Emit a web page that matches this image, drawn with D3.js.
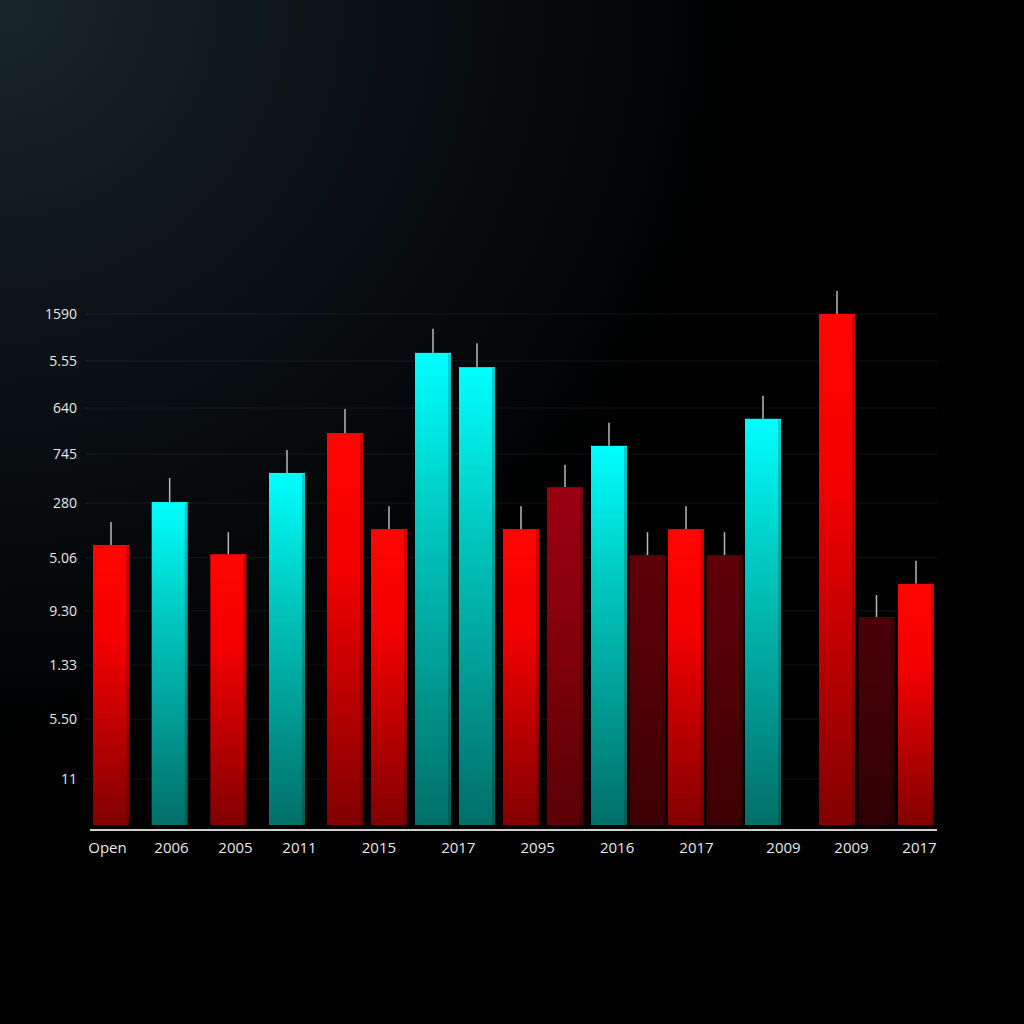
<!DOCTYPE html>
<html><head><meta charset="utf-8">
<script src="https://cdn.jsdelivr.net/npm/d3@7"></script>
<style>html,body{margin:0;padding:0;background:#000;}svg{display:block;}</style>
</head><body>
<script>
// ---- data ----
const barIds = ["b1","b2","b3","b4","b5","b6","b7","b8","b9","b10","b11","b12","b13","b14","b15","b16","b17","b18"];
const barKinds = ["red","cyan","red","cyan","red","red","cyan","cyan","red","maroon","cyan","dark","red","dark","cyan","red","darker","red"];
const barValues = [54.8,63.2,53.0,68.9,76.7,57.9,92.4,89.6,57.9,66.1,74.2,52.8,57.9,52.8,79.5,100,40.7,47.2];
const highValues = [59.3,67.9,57.3,73.4,81.4,62.4,97.1,94.3,62.4,70.5,78.7,57.3,62.4,57.3,84.0,104.5,45.0,51.7];
const xLabels = ["Open","2006","2005","2011","2015","2017","2095","2016","2017","2009","2009","2017"];
const yTickValues = [9.0,20.7,31.3,41.9,52.3,63.0,72.6,81.6,90.8,100];
const yTickLabels = ["11","5.50","1.33","9.30","5.06","280","745","640","5.55","1590"];

// ---- layout ----
const W = 1024, H = 1024;
const svg = d3.select("body").append("svg").attr("width", W).attr("height", H);
const defs = svg.append("defs");

const bg = defs.append("radialGradient").attr("id","bg").attr("cx","0").attr("cy","0").attr("r","1")
  .attr("gradientUnits","userSpaceOnUse").attr("gradientTransform","scale(1000)");
bg.append("stop").attr("offset","0").attr("stop-color","#18262c");
bg.append("stop").attr("offset","0.35").attr("stop-color","#0b1216");
bg.append("stop").attr("offset","0.75").attr("stop-color","#000000");
svg.append("rect").attr("width",W).attr("height",H).attr("fill","url(#bg)");

const grads = {
  red:    ["#ff0500","#f20000","#820000"],
  cyan:   ["#00ffff","#00c9c0","#006f68"],
  maroon: ["#9a0010","#8a000c","#5a0006"],
  dark:   ["#5e0008","#550007","#3c0004"],
  darker: ["#4a0008","#420006","#2e0003"]
};
Object.entries(grads).forEach(([k,c])=>{
  const g = defs.append("linearGradient").attr("id","g-"+k).attr("x1",0).attr("y1",0).attr("x2",0).attr("y2",1);
  g.append("stop").attr("offset","0").attr("stop-color",c[0]);
  g.append("stop").attr("offset","0.35").attr("stop-color",c[1]);
  g.append("stop").attr("offset","1").attr("stop-color",c[2]);
});

const plotLeft = 90, plotRight = 937, baseY = 825;
const y = d3.scaleLinear().domain([0,100]).range([baseY,314]);
const idx = d3.scaleLinear().domain([0,3,4,10,14,15,17]).range([111,287,345,609,763,837,916]);
const x = id => idx(barIds.indexOf(id));
const bw = 36;
const xl = d3.scaleLinear().domain([0,3,8,9,11]).range([107,299,696,783,919]);

// grid
svg.append("g").selectAll("line").data(yTickValues).join("line")
  .attr("x1",85).attr("x2",plotRight).attr("y1",d=>y(d)).attr("y2",d=>y(d))
  .attr("stroke","#ffffff").attr("stroke-opacity",0.07).attr("stroke-width",1);

// y labels via axis
const yAxis = d3.axisLeft(y).tickValues(yTickValues).tickFormat((d,i)=>yTickLabels[i]).tickSize(0).tickPadding(0);
const ya = svg.append("g").attr("transform","translate(77,0)").call(yAxis);
ya.select(".domain").remove();
ya.selectAll("text").attr("fill","#e8e8e8").attr("font-family","'Open Sans', sans-serif").attr("font-size",14);

// wicks
svg.append("g").selectAll("line").data(barIds).join("line")
  .attr("x1",d=>x(d)).attr("x2",d=>x(d))
  .attr("y1",(d,i)=>y(highValues[i])).attr("y2",(d,i)=>y(barValues[i]))
  .attr("stroke","#b8b8b8").attr("stroke-width",1.5);

// bars
const bars = svg.append("g").selectAll("g").data(barIds).join("g");
bars.append("rect")
  .attr("x",d=>x(d)-bw/2).attr("width",bw)
  .attr("y",(d,i)=>y(barValues[i])).attr("height",(d,i)=>baseY-y(barValues[i]))
  .attr("fill",(d,i)=>"url(#g-"+barKinds[i]+")");
bars.append("rect")
  .attr("x",d=>x(d)+bw/2-3).attr("width",3)
  .attr("y",(d,i)=>y(barValues[i])+1).attr("height",(d,i)=>baseY-y(barValues[i])-1)
  .attr("fill","#000").attr("fill-opacity",0.18);

// x axis line
svg.append("line").attr("x1",plotLeft).attr("x2",plotRight).attr("y1",830).attr("y2",830)
  .attr("stroke","#cfcfcf").attr("stroke-width",2);

// x labels
const xAxis = d3.axisBottom(xl).tickValues(d3.range(xLabels.length)).tickFormat(i=>xLabels[i]).tickSize(0).tickPadding(0);
const xa = svg.append("g").attr("transform","translate(0,842)").call(xAxis);
xa.select(".domain").remove();
xa.selectAll("text").attr("fill","#e8e8e8").attr("font-family","'Open Sans', sans-serif").attr("font-size",15);
</script>
</body></html>
